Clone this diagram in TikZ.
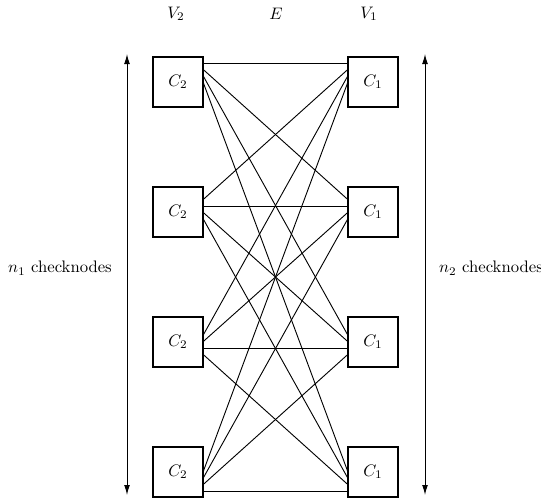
\documentclass[tikz,border=0pt]{standalone}
\usetikzlibrary{arrows.meta}
\begin{document}
\begin{tikzpicture}[x=0.6pt,y=-0.6pt,
  cbox/.style={draw,line width=1.5pt,fill=white,minimum size=30pt,inner sep=0pt},
  edge/.style={line width=0.55pt},
  span/.style={line width=0.6pt,{Latex[length=6pt,width=3.5pt]}-{Latex[length=6pt,width=3.5pt]}}]
\useasboundingbox (0,0) rectangle (541,497);
\foreach \i/\q in {1/63,2/206,3/348,4/491} {
  \coordinate (qL\i) at (196,\q);
  \coordinate (qR\i) at (355,\q);
}
\foreach \i in {1,...,4} {
  \foreach \j in {1,...,4} {
    \draw[edge] (qL\i) -- (qR\j);
  }
}
\foreach \i/\y in {1/82,2/212,3/342,4/472} {
  \node[cbox] (L\i) at (178,\y) {$C_2$};
  \node[cbox] (R\i) at (373,\y) {$C_1$};
}
\coordinate (aLT) at (127,54);
\coordinate (aLB) at (127,495);
\coordinate (aRT) at (425,54);
\coordinate (aRB) at (425,495);
\draw[span] (aLT) -- (aLB);
\draw[span] (aRT) -- (aRB);
\node (n1) at (60,268) {$n_1$ checknodes};
\node (n2) at (491,268) {$n_2$ checknodes};
\node (v2) at (176,14) {$V_2$};
\node (e) at (276,14) {$E$};
\node (v1) at (369,14) {$V_1$};
\end{tikzpicture}
\end{document}
